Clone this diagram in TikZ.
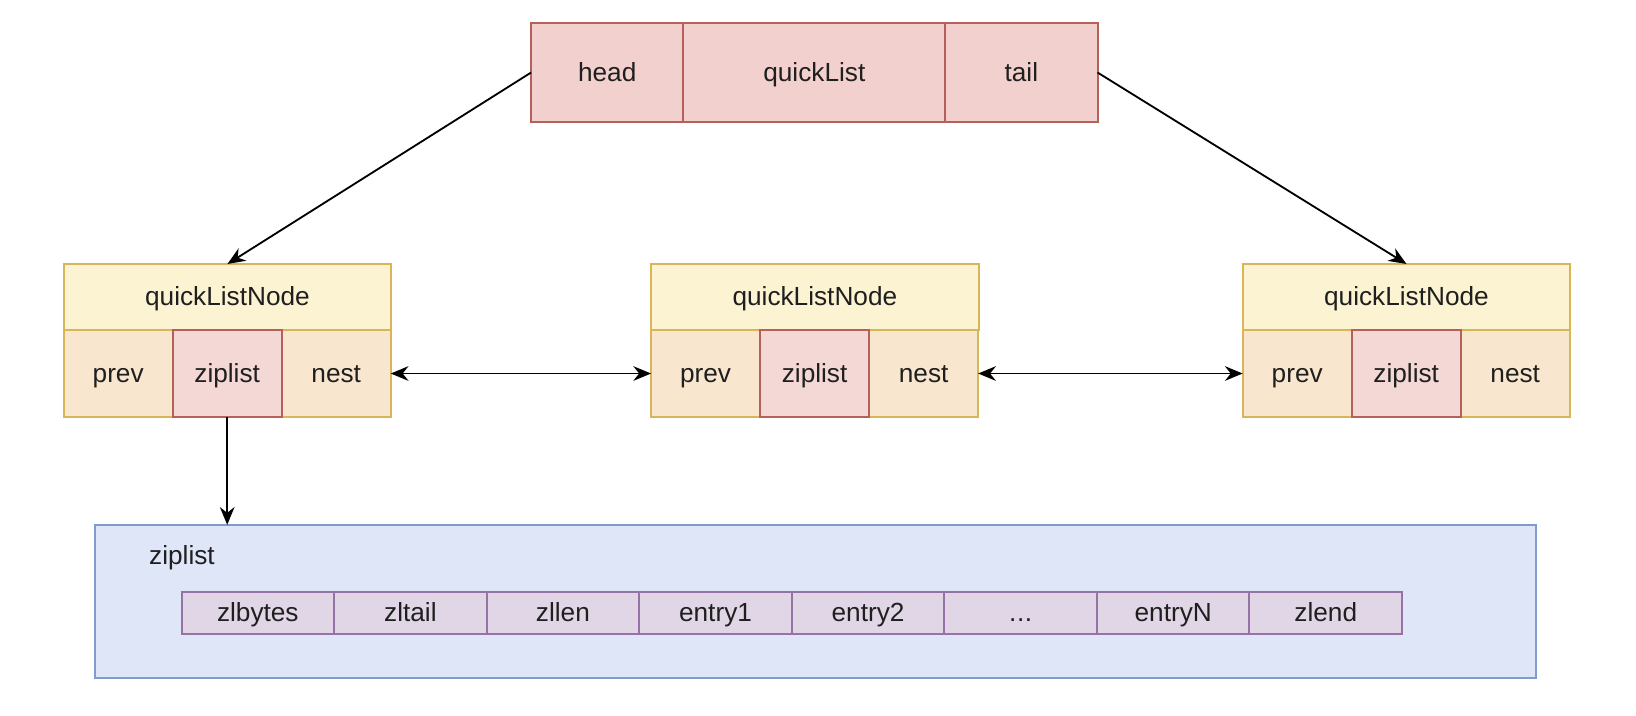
\documentclass[tikz,border=0pt]{standalone}
\usepackage{fontspec}
\setmainfont{Liberation Sans}
\usetikzlibrary{arrows.meta}

\definecolor{listfill}{HTML}{F1D0CD}
\definecolor{listline}{HTML}{B5605B}
\definecolor{hdrfill}{HTML}{FCF3D2}
\definecolor{nodeline}{HTML}{D6B656}
\definecolor{fieldfill}{HTML}{F9E6CE}
\definecolor{zipfill}{HTML}{F3D8D5}
\definecolor{zlfill}{HTML}{DEE6F8}
\definecolor{zlline}{HTML}{7F9CCD}
\definecolor{entryfill}{HTML}{E0D6E6}
\definecolor{entryline}{HTML}{9673A6}

\begin{document}
\begin{tikzpicture}[x=0.02cm, y=-0.02cm, inner sep=0, outer sep=0,
  >={Stealth[length=0.34cm, width=0.28cm]},
  txt/.style={font=\fontsize{14.3}{16}\selectfont, text=black!88, text height=12pt, text depth=2.4pt},
  listcell/.style={rectangle, txt, draw=listline, fill=listfill, line width=1.1pt, minimum height=1.9cm},
  hdrcell/.style={rectangle, txt, draw=nodeline, fill=hdrfill, line width=1.1pt, minimum width=6.28cm, minimum height=1.26cm},
  fieldcell/.style={rectangle, txt, draw=nodeline, fill=fieldfill, line width=1.1pt, minimum width=2.09cm, minimum height=1.68cm},
  zipcell/.style={rectangle, txt, draw=listline, fill=zipfill, line width=1.1pt, minimum width=2.09cm, minimum height=1.68cm},
  zlbox/.style={rectangle, draw=zlline, fill=zlfill, line width=1.1pt, minimum width=27.62cm, minimum height=2.94cm},
  entrycell/.style={rectangle, txt, draw=entryline, fill=entryfill, line width=1.1pt, minimum width=2.925cm, minimum height=0.82cm},
  link/.style={line width=1pt, draw=black}]
  \useasboundingbox (0,0) rectangle (1568,686);

  % quickList
  \node[listcell, minimum width=2.92cm] (head) at (582,69.5) {head};
  \node[listcell, minimum width=5.02cm, anchor=west] (qlist) at (head.east) {quickList};
  \node[listcell, minimum width=2.92cm, anchor=west] (tail) at (qlist.east) {tail};

  % quickListNode 1
  \node[hdrcell] (hdr1) at (218,284.5) {quickListNode};
  \node[fieldcell, anchor=north west] (prev1) at (hdr1.south west) {prev};
  \node[fieldcell, anchor=west] (nest1) at ([xshift=2.09cm]prev1.east) {nest};
  \node[zipcell, anchor=west] (zip1) at (prev1.east) {ziplist};

  % quickListNode 2
  \node[hdrcell] (hdr2) at (781,284.5) {quickListNode};
  \node[fieldcell, anchor=north west] (prev2) at (hdr2.south west) {prev};
  \node[fieldcell, anchor=west] (nest2) at ([xshift=2.09cm]prev2.east) {nest};
  \node[zipcell, anchor=west] (zip2) at (prev2.east) {ziplist};

  % quickListNode 3
  \node[hdrcell] (hdr3) at (1348,284.5) {quickListNode};
  \node[fieldcell, anchor=north west] (prev3) at (hdr3.south west) {prev};
  \node[fieldcell, anchor=west] (nest3) at ([xshift=2.09cm]prev3.east) {nest};
  \node[zipcell, anchor=west] (zip3) at (prev3.east) {ziplist};

  % ziplist
  \node[zlbox] (zl) at (781.5,576.5) {};
  \node[txt, anchor=west] (zllabel) at (143,533) {ziplist};
  \node[entrycell] (zlbytes) at (247.1,587.5) {zlbytes};
  \node[entrycell, anchor=west] (zltail) at (zlbytes.east) {zltail};
  \node[entrycell, anchor=west] (zllen) at (zltail.east) {zllen};
  \node[entrycell, anchor=west] (entry1) at (zllen.east) {entry1};
  \node[entrycell, anchor=west] (entry2) at (entry1.east) {entry2};
  \node[entrycell, anchor=west] (dots) at (entry2.east) {.\kern0.02em.\kern0.02em.};
  \node[entrycell, anchor=west] (entryN) at (dots.east) {entryN};
  \node[entrycell, anchor=west] (zlend) at (entryN.east) {zlend};

  % links
  \draw[link, ->] (head.west) -- (hdr1.north);
  \draw[link, ->] (tail.east) -- (hdr3.north);
  \draw[link, <->] (nest1.east) -- (prev2.west);
  \draw[link, <->] (nest2.east) -- (prev3.west);
  \draw[link, ->] (zip1.south) -- (zip1.south |- zl.north);
\end{tikzpicture}
\end{document}
